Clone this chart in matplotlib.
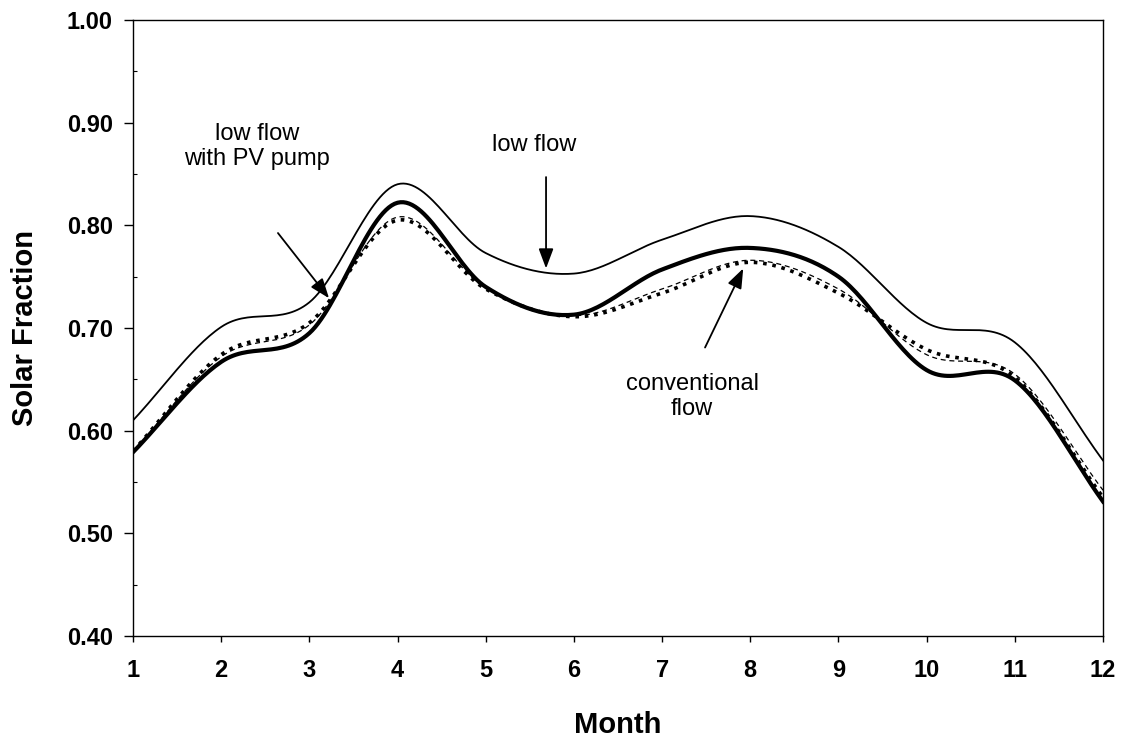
import numpy as np
import matplotlib.pyplot as plt

months = [1, 2, 3, 4, 5, 6, 7, 8, 9, 10, 11, 12]

# monthly solar fraction
low_flow = [0.610, 0.701, 0.725, 0.840, 0.773, 0.753, 0.786, 0.809, 0.779, 0.705, 0.686, 0.571]
low_flow_pv = [0.579, 0.667, 0.695, 0.822, 0.740, 0.713, 0.757, 0.778, 0.750, 0.659, 0.649, 0.531]
conventional = [0.580, 0.674, 0.705, 0.805, 0.738, 0.711, 0.734, 0.764, 0.734, 0.679, 0.652, 0.535]
conventional_2 = [0.580, 0.672, 0.703, 0.808, 0.739, 0.712, 0.738, 0.766, 0.738, 0.674, 0.655, 0.542]


def smooth(x, y, n=30):
    """Catmull-Rom curve through the points (like Excel 'smoothed line')."""
    x = np.asarray(x, float)
    y = np.asarray(y, float)
    px = np.concatenate([[2 * x[0] - x[1]], x, [2 * x[-1] - x[-2]]])
    py = np.concatenate([[2 * y[0] - y[1]], y, [2 * y[-1] - y[-2]]])
    xs, ys = [], []
    t = np.linspace(0, 1, n, endpoint=False)
    for i in range(1, len(px) - 2):
        for p, out in ((px, xs), (py, ys)):
            p0, p1, p2, p3 = p[i - 1], p[i], p[i + 1], p[i + 2]
            out.extend(0.5 * ((2 * p1) + (-p0 + p2) * t
                              + (2 * p0 - 5 * p1 + 4 * p2 - p3) * t ** 2
                              + (-p0 + 3 * p1 - 3 * p2 + p3) * t ** 3))
    xs.append(x[-1])
    ys.append(y[-1])
    return np.array(xs), np.array(ys)


plt.rcParams['font.family'] = ['Liberation Sans', 'DejaVu Sans']

fig = plt.figure(figsize=(11.26, 7.40), dpi=100)
ax = fig.add_axes([0.1181, 0.1405, 0.8615, 0.8325])

ax.plot(*smooth(months, low_flow), color='black', lw=1.3)
ax.plot(*smooth(months, conventional_2), color='black', lw=0.9, dashes=(4, 3))
ax.plot(*smooth(months, conventional), color='black', lw=2.6,
        linestyle=(0, (1, 1.6)))
ax.plot(*smooth(months, low_flow_pv), color='black', lw=3.0)

ax.set_xlim(1, 12)
ax.set_ylim(0.40, 1.00)
ax.set_xticks(months)
ax.set_yticks(np.arange(0.40, 1.001, 0.10))
ax.set_yticks(np.arange(0.45, 1.0, 0.10), minor=True)
ax.set_yticklabels([f"{v:.2f}" for v in np.arange(0.40, 1.001, 0.10)])
ax.tick_params(axis='y', which='major', direction='out', length=6.5, width=1,
               pad=8)
ax.tick_params(axis='y', which='minor', direction='in', length=3, width=0.8)
ax.tick_params(axis='x', which='major', direction='out', length=4.5, width=1,
               pad=12)
ax.tick_params(axis='both', labelsize=17)
for lbl in ax.get_xticklabels() + ax.get_yticklabels():
    lbl.set_fontweight('bold')
for s in ax.spines.values():
    s.set_linewidth(1.0)

ax.set_xlabel('Month', fontsize=21, fontweight='bold')
ax.set_ylabel('Solar Fraction', fontsize=21, fontweight='bold', va='center')
ax.xaxis.set_label_coords(0.5, -0.122)
ax.yaxis.set_label_coords(-0.111, 0.5)

arrow = dict(arrowstyle='-|>,head_length=1.2,head_width=0.45', color='black',
             lw=1.3, shrinkA=0, shrinkB=0)
ax.annotate('', xy=(3.223, 0.729), xytext=(2.644, 0.7925), arrowprops=arrow)
ax.annotate('', xy=(5.684, 0.758), xytext=(5.684, 0.847), arrowprops=arrow)
ax.annotate('', xy=(7.92, 0.758), xytext=(7.487, 0.681), arrowprops=arrow)

ax.text(2.41, 0.877, 'low flow\nwith PV pump', fontsize=17, ha='center',
        va='center', linespacing=1.2)
ax.text(5.553, 0.878, 'low flow', fontsize=17, ha='center', va='center')
ax.text(7.34, 0.633, 'conventional\nflow', fontsize=17, ha='center',
        va='center', linespacing=1.2)

fig.savefig('out.png', dpi=100)
